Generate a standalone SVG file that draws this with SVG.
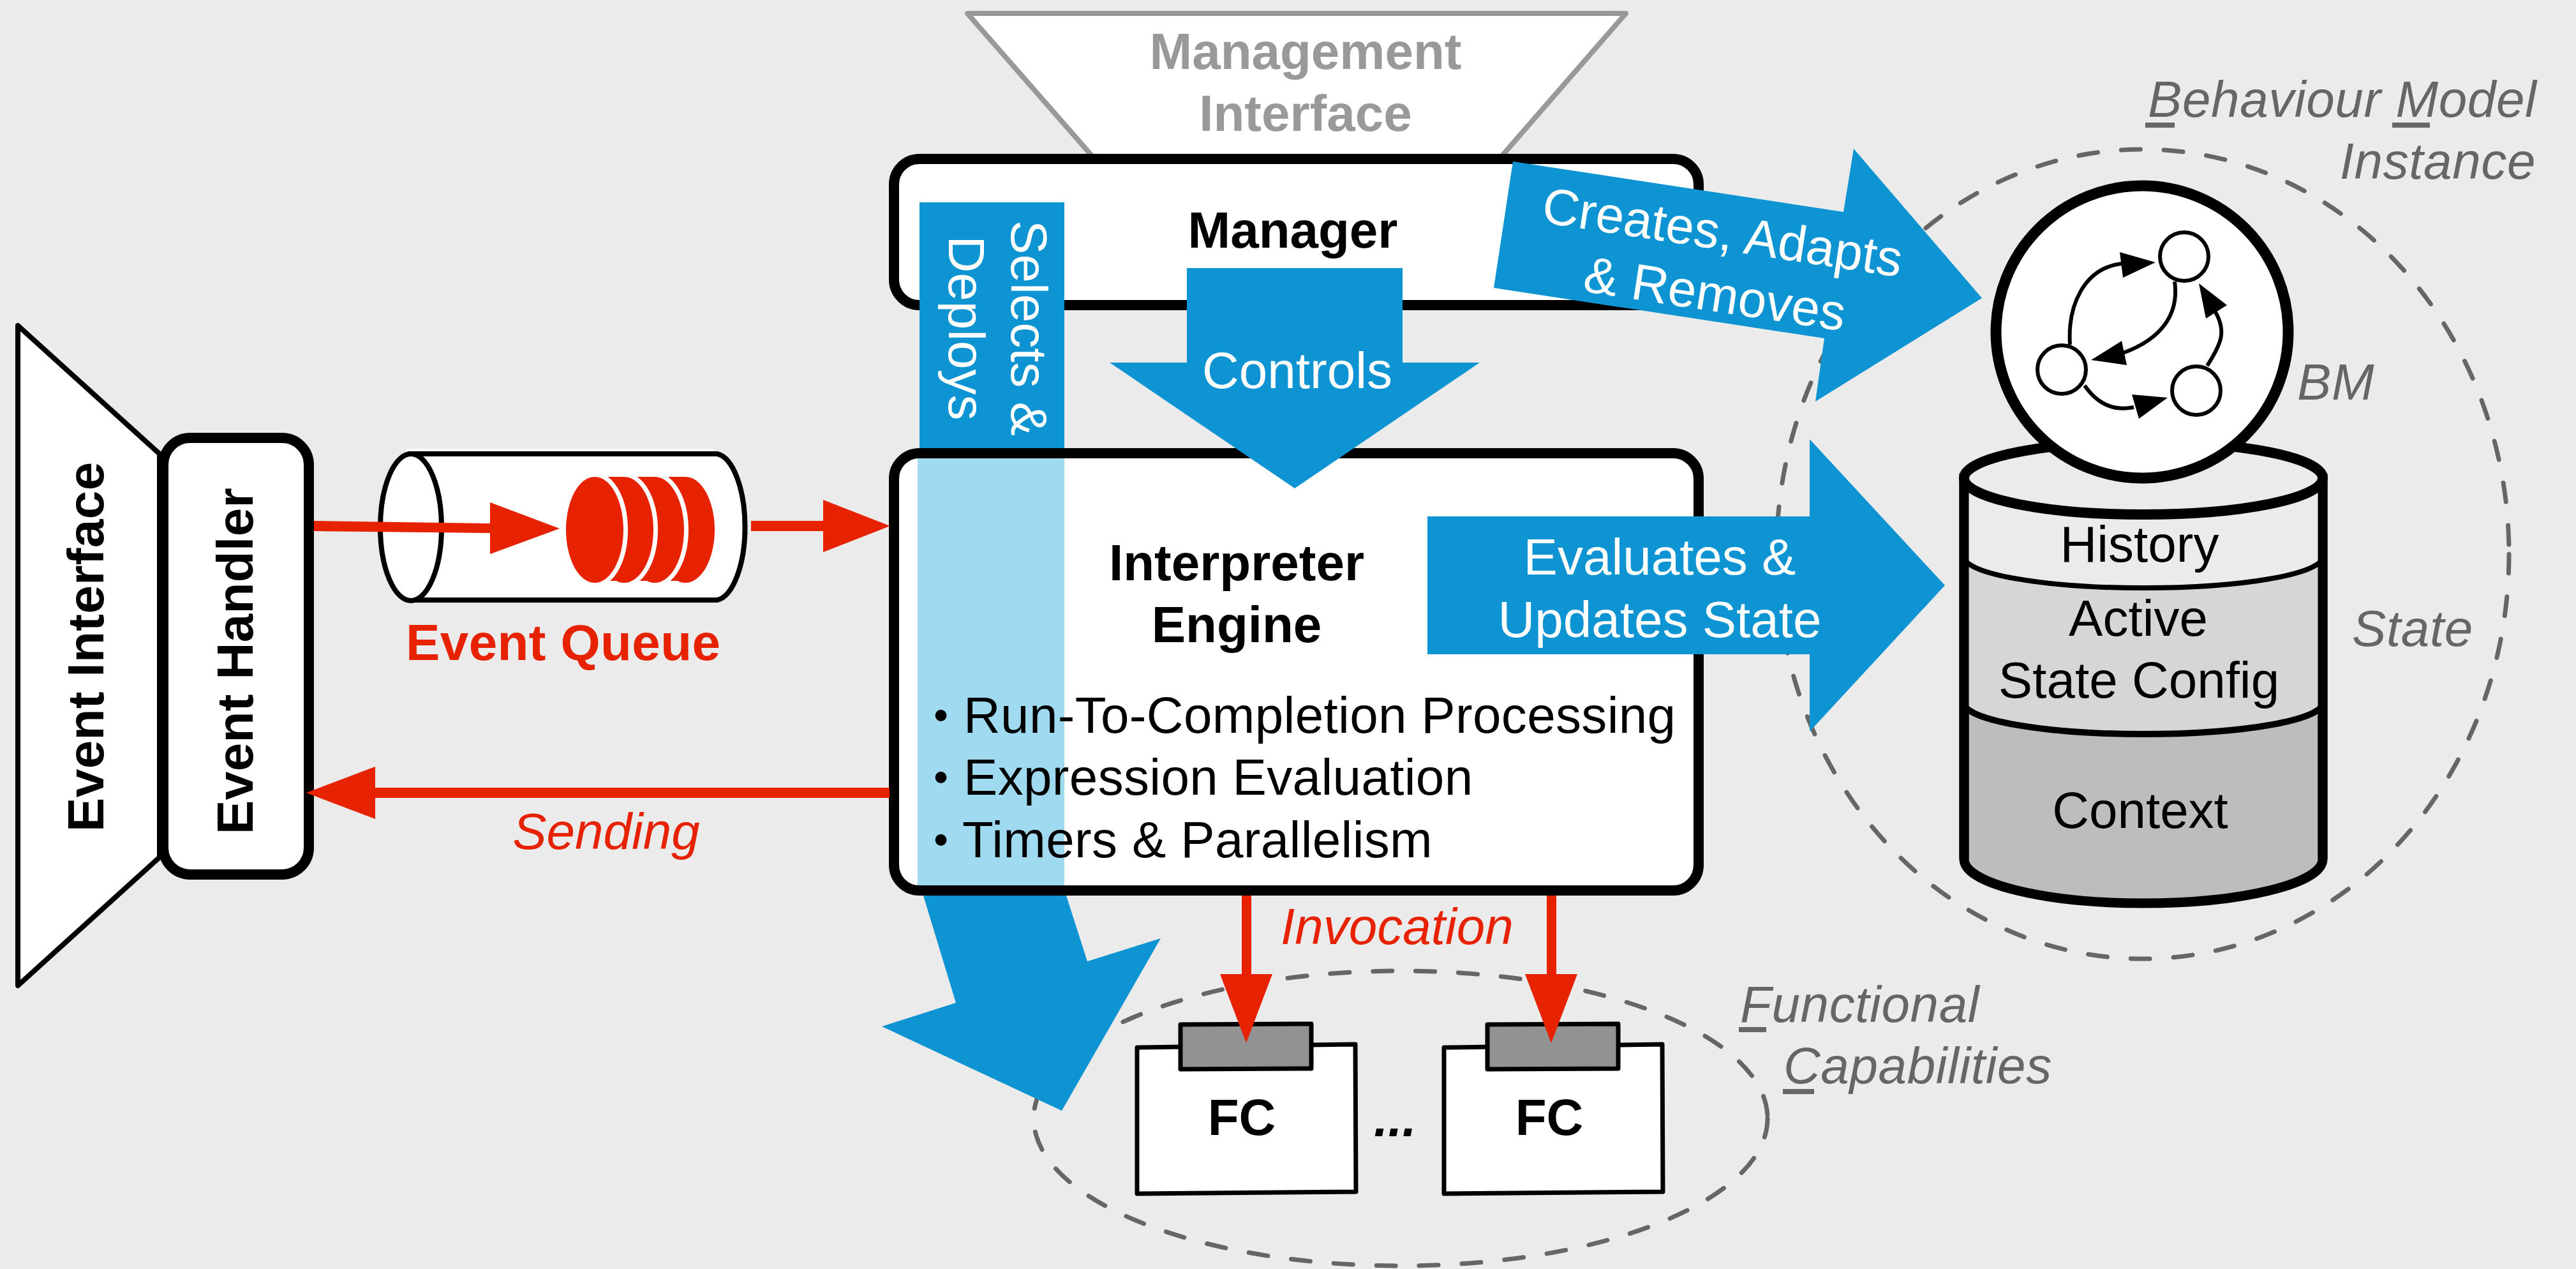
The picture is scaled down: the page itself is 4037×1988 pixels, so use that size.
<svg xmlns="http://www.w3.org/2000/svg" width="4037" height="1988" viewBox="0 0 4037 1988">
<defs><style>
text{font-family:"Liberation Sans",Arial,sans-serif;font-size:80px}
.b{font-weight:bold}.c{text-anchor:middle}.e{text-anchor:end}
.k{fill:#000}.w{fill:#fff}.r{fill:#e62200}.g{fill:#666;font-style:italic;letter-spacing:.6px}
.ls{letter-spacing:.33px}
.sp{letter-spacing:.4px}
.u{fill:#666}
.bul{font-size:66px;letter-spacing:0}
.box{fill:#fff;stroke:#000;stroke-width:16}
.dash{fill:none;stroke:#666;stroke-width:7;stroke-dasharray:30 37;stroke-linecap:round}
.blue{fill:#0e94d2}
.red{fill:#e62200}
.fcb{fill:#fff;stroke:#000;stroke-width:7;stroke-linejoin:round}
.tab{fill:#929292;stroke:#000;stroke-width:7;stroke-linejoin:round}
.in{fill:#fff;stroke:#000;stroke-width:6}
.cv{fill:none;stroke:#000;stroke-width:6}
.cy{stroke:#000;stroke-width:15}
.wd{fill:#fff;stroke:#fff;stroke-width:14}
</style></defs>
<rect width="4037" height="1988" fill="#ebebeb"/>

<g id="behaviour-model-instance">
<ellipse class="dash" cx="3358" cy="868" rx="574" ry="634"/>
<text class="g" x="3366" y="183">Behaviour Model</text>
<rect class="u" x="3362" y="192" width="46" height="8"/>
<rect class="u" x="3749" y="192" width="59" height="8"/>
<text class="g e" x="3974" y="280">Instance</text>
</g>

<g id="functional-capabilities">
<ellipse class="dash" cx="2195" cy="1752" rx="575" ry="231"/>
<text class="g" x="2727" y="1601">Functional</text>
<rect class="u" x="2725" y="1609" width="43" height="8"/>
<text class="g" x="2795" y="1697">Capabilities</text>
<rect class="u" x="2794" y="1706" width="49" height="8"/>
</g>

<g id="event-interface">
<polygon points="28,510 250,711 250,1343 28,1544" fill="#fff" stroke="#000" stroke-width="8" stroke-linejoin="round"/>
<text class="k b sp" transform="translate(162 1303) rotate(-90)">Event Interface</text>
</g>
<g id="event-handler">
<rect class="box" x="256" y="686" width="228" height="684" rx="42"/>
<text class="k b sp" transform="translate(396 1307) rotate(-90)">Event Handler</text>
</g>

<g id="event-queue">
<rect x="637" y="703" width="481" height="6" fill="#fff"/>
<path d="M644 711H1124A48 115 0 0 1 1124 940H644Z" fill="#fff" stroke="#000" stroke-width="8"/>
<ellipse cx="644" cy="826" rx="48" ry="115" fill="#fff" stroke="#000" stroke-width="8"/>
<g class="red">
<ellipse cx="1074" cy="830" rx="46" ry="83"/>
<rect x="1044" y="747" width="30" height="163"/>
<ellipse class="wd" cx="1026" cy="830" rx="46" ry="83"/>
<ellipse cx="1026" cy="830" rx="46" ry="83"/>
<rect x="996" y="747" width="30" height="163"/>
<ellipse class="wd" cx="978" cy="830" rx="46" ry="83"/>
<ellipse cx="978" cy="830" rx="46" ry="83"/>
<rect x="948" y="747" width="30" height="163"/>
<ellipse class="wd" cx="932" cy="830" rx="45" ry="83"/>
<ellipse cx="932" cy="830" rx="45" ry="83"/>
</g>
<text class="r b sp" x="636" y="1034">Event Queue</text>
</g>

<g id="management-interface">
<polygon points="1516,21 2548,21 2353,245 1712,245" fill="#fff" stroke="#999" stroke-width="8" stroke-linejoin="round"/>
<text class="b c" x="2046" y="108" fill="#999">Management</text>
<text class="b c" x="2046" y="205" fill="#999">Interface</text>
</g>

<g id="manager">
<rect class="box" x="1401" y="249" width="1261" height="229" rx="40"/>
<text class="k b c" x="2026" y="388">Manager</text>
</g>

<g id="interpreter-engine">
<rect x="1401" y="710" width="1261" height="685" rx="40" fill="#fff"/>
<rect x="1438" y="718" width="230" height="669" fill="#a0daf0"/>
<rect x="1401" y="710" width="1261" height="685" rx="40" fill="none" stroke="#000" stroke-width="16"/>
<text class="k b c" x="1938" y="909">Interpreter</text>
<text class="k b c" x="1938" y="1006">Engine</text>
<text class="k ls" y="1148"><tspan class="bul" x="1463" dy="-5">•</tspan><tspan x="1510" dy="5">Run-To-Completion Processing</tspan></text>
<text class="k ls" y="1245"><tspan class="bul" x="1463" dy="-5">•</tspan><tspan x="1510" dy="5">Expression Evaluation</tspan></text>
<text class="k ls" y="1343"><tspan class="bul" x="1463" dy="-5">•</tspan><tspan x="1508" dy="5">Timers &amp; Parallelism</tspan></text>
</g>

<g id="state">
<path class="cy" d="M3078 749V1346A281 69 0 0 0 3640 1346V749Z" fill="#bdbdbd"/>
<path d="M3078 1101V749H3640V1101A281 49 0 0 1 3078 1101Z" fill="#d6d6d6"/>
<path d="M3078 872V749H3640V872A281 49 0 0 1 3078 872Z" fill="#ebebeb"/>
<path d="M3078 749V1346M3640 749V1346" class="cy" fill="none"/>
<path d="M3078 872A281 49 0 0 0 3640 872" fill="none" stroke="#000" stroke-width="8"/>
<path d="M3078 1101A281 49 0 0 0 3640 1101" fill="none" stroke="#000" stroke-width="10"/>
<ellipse cx="3359" cy="749" rx="281" ry="57" fill="#ebebeb" stroke="#000" stroke-width="16"/>
<text class="k c" x="3353" y="880">History</text>
<text class="k c" x="3351" y="996">Active</text>
<text class="k c" x="3352" y="1093">State Config</text>
<text class="k c" x="3354" y="1297">Context</text>
<text class="g" x="3686" y="1012">State</text>
</g>

<g id="bm">
<circle cx="3357" cy="520" r="229" fill="#fff" stroke="#000" stroke-width="17"/>
<circle class="in" cx="3423" cy="402" r="38"/>
<circle class="in" cx="3231" cy="579" r="38"/>
<circle class="in" cx="3442" cy="612" r="38"/>
<path class="cv" d="M3244 540C3240 480 3265 420 3325 413"/>
<polygon points="3322,395 3327,435 3378,411"/>
<path class="cv" d="M3408 441C3415 490 3390 530 3327 553"/>
<polygon points="3325,534 3333,572 3277,564"/>
<path class="cv" d="M3267 604C3285 630 3310 645 3344 638"/>
<polygon points="3341,618 3352,656 3397,623"/>
<path class="cv" d="M3459 573C3480 540 3490 520 3472 489"/>
<polygon points="3446,444 3457,499 3490,478"/>
<text class="g" x="3600" y="626">BM</text>
</g>

<g id="fc-1">
<polygon class="fcb" points="1782,1641 2124,1636 2125,1867 1782,1870"/>
<polygon class="tab" points="1850,1605 2055,1604 2055,1674 1850,1675"/>
<text class="k b c" x="1946" y="1778">FC</text>
</g>
<text id="fc-ellipsis" class="k b" x="2153" y="1780" font-style="italic">...</text>
<g id="fc-2">
<polygon class="fcb" points="2263,1641 2605,1636 2606,1867 2263,1870"/>
<polygon class="tab" points="2331,1605 2536,1604 2536,1674 2331,1675"/>
<text class="k b c" x="2428" y="1778">FC</text>
</g>

<g id="connectors">
<polygon class="red" points="492,816 768,820 768,787 877,828 768,868 768,835 492,832"/>
<polygon class="red" points="1177,816 1290,816 1290,783 1395,824 1290,865 1290,832 1177,832"/>
<polygon class="red" points="1394,1234 588,1234 588,1201 480,1242 588,1283 588,1250 1394,1250"/>
<text class="r c" x="950" y="1330" font-style="italic">Sending</text>
<polygon class="red" points="1946,1403 1961,1403 1961,1526 1994,1526 1953,1634 1912,1526 1946,1526"/>
<polygon class="red" points="2424,1403 2439,1403 2439,1526 2472,1526 2431,1634 2390,1526 2424,1526"/>
<text class="r" x="2007" y="1479" font-style="italic">Invocation</text>

<rect class="blue" x="1441" y="317" width="227" height="385"/>
<polygon class="blue" points="1447,1403 1671,1403 1704,1506 1819,1470 1664,1740 1382,1608 1498,1571"/>
<text class="w c" transform="translate(1585 514) rotate(90)">Selects &amp;</text>
<text class="w c" transform="translate(1487 514) rotate(90)">Deploys</text>

<polygon class="blue" points="1860,420 2198,420 2198,568 2319,568 2029,765 1739,568 1860,568"/>
<text class="w c" x="2033" y="608">Controls</text>

<polygon class="blue" points="2371,253 2889,332 2905,233 3106,467 2845,629 2859,530 2341,451"/>
<text class="w" transform="translate(2414 348) rotate(8.7)">Creates, Adapts</text>
<text class="w" transform="translate(2479 456) rotate(8.7)">&amp; Removes</text>

<polygon class="blue" points="2237,809 2836,809 2836,688 3048,917 2836,1146 2836,1025 2237,1025"/>
<text class="w c" x="2601" y="900">Evaluates &amp;</text>
<text class="w c" x="2601" y="998">Updates State</text>
</g>
</svg>
